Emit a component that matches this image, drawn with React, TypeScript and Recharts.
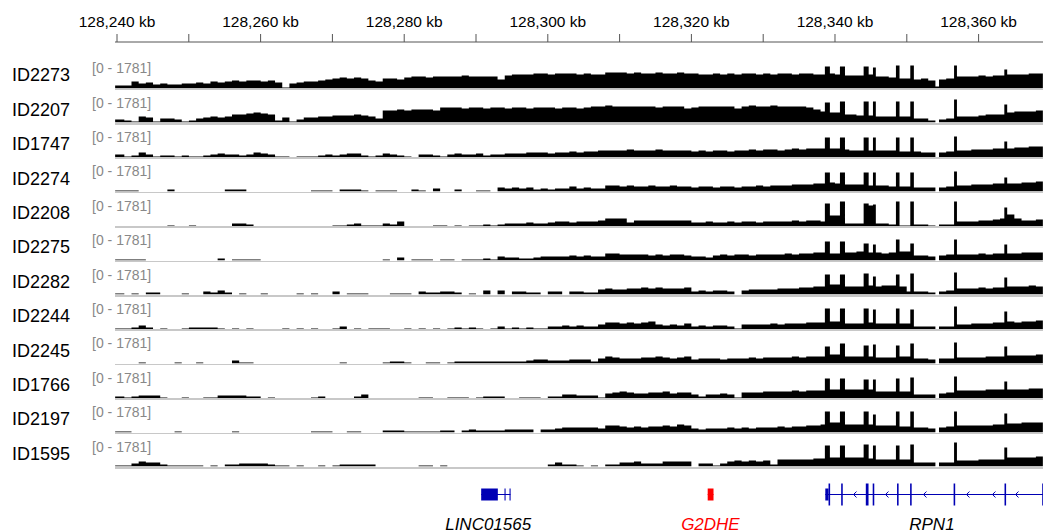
import React from "react";
import {
  AreaChart,
  Area,
  ComposedChart,
  XAxis,
  YAxis,
  ReferenceArea,
  ReferenceLine,
  Scatter,
} from "recharts";

// ---- region / scale ----
const REGION_START = 128240; // kb
const VIEW_START = 128239.72;
const VIEW_END = 128368.97;
const DATA_MAX = 1781;

// bin starts (kb offset from REGION_START); each bin runs to the next start
const binStart = [
  -0.3, 1, 2, 3, 4, 5, 6, 7, 8, 9,
  10, 11, 12, 13, 14, 15, 16, 17, 18, 19,
  20, 21, 22, 23, 24, 25, 26, 27, 28, 29,
  30, 31, 32, 33, 34, 35, 36, 37, 38, 39,
  40, 41, 42, 43, 44, 45, 46, 47, 48, 49,
  50, 51, 52, 53, 54, 55, 56, 57, 58, 59,
  60, 61, 62, 63, 64, 65, 66, 67, 68, 69,
  70, 71, 72, 73, 74, 75, 76, 77, 78, 79,
  80, 81, 82, 83, 84, 85, 86, 87, 88, 89,
  90, 91, 92, 93, 94, 95, 96, 97,
  98, 98.6, 99.3, 100, 100.7, 101.4, 102, 103, 104, 104.7,
  105.3, 105.7, 106.5, 107.5, 108.5, 109, 110, 110.5, 111, 112,
  113, 114, 114.5, 115.5, 116.6, 117, 118, 119, 120, 121,
  122, 123, 123.6, 124, 125, 126, 127, 128, 129,
];
const BIN_END = 129.5;

const trackNames = [
  "ID2273", "ID2207", "ID1747", "ID2274", "ID2208", "ID2275",
  "ID2282", "ID2244", "ID2245", "ID1766", "ID2197", "ID1595",
];

const id2273 = [
  150, 150, 350, 250, 300, 200, 250, 200, 200, 250,
  250, 300, 250, 350, 300, 350, 400, 350, 400, 400,
  350, 400, 300, 50, 250, 300, 350, 350, 400, 450,
  500, 550, 500, 550, 500, 400, 350, 500, 500, 450,
  550, 600, 600, 550, 600, 600, 600, 600, 650, 600,
  600, 600, 600, 450, 650, 700, 700, 700, 750, 750,
  700, 750, 750, 750, 700, 750, 700, 700, 800, 800,
  800, 750, 800, 750, 750, 800, 750, 750, 800, 750,
  750, 700, 700, 750, 700, 750, 700, 750, 750, 700,
  750, 700, 750, 750, 700, 750, 750, 700,
  700, 1100, 750, 700, 1100, 650, 650, 650, 1100, 700,
  1050, 600, 600, 550, 1150, 500, 500, 1150, 450, 500,
  400, 100, 450, 500, 1150, 600, 600, 600, 650, 600,
  650, 650, 950, 700, 700, 700, 750, 750, 1100,
];
const id2207 = [
  150, 100, 50, 300, 250, 50, 200, 200, 150, 50,
  100, 200, 250, 300, 250, 300, 400, 400, 450, 500,
  450, 400, 100, 250, 50, 150, 250, 250, 300, 300,
  350, 350, 350, 400, 350, 300, 200, 600, 600, 650,
  600, 650, 650, 650, 600, 750, 750, 750, 700, 750,
  750, 700, 750, 750, 700, 750, 750, 700, 750, 750,
  750, 700, 750, 750, 700, 750, 800, 800, 850, 800,
  800, 800, 800, 800, 800, 750, 800, 800, 800, 700,
  750, 800, 800, 800, 800, 800, 700, 800, 850, 800,
  800, 850, 800, 800, 800, 800, 750, 650,
  550, 1000, 500, 500, 1050, 400, 400, 350, 1050, 350,
  1050, 300, 300, 300, 1050, 300, 300, 1050, 200, 200,
  100, 0, 150, 200, 1150, 300, 300, 300, 350, 400,
  400, 400, 900, 500, 550, 550, 550, 600, 900,
];
const id1747 = [
  150, 50, 100, 250, 150, 50, 100, 100, 50, 100,
  50, 50, 100, 150, 200, 150, 150, 100, 150, 250,
  200, 150, 50, 50, 0, 50, 50, 50, 100, 150,
  100, 150, 200, 200, 100, 50, 100, 200, 150, 100,
  50, 0, 150, 150, 100, 50, 150, 200, 150, 150,
  200, 100, 150, 150, 200, 200, 200, 250, 250, 250,
  200, 250, 250, 300, 250, 300, 300, 350, 350, 350,
  350, 400, 350, 350, 350, 400, 350, 350, 350, 350,
  300, 350, 300, 350, 350, 300, 350, 350, 400, 350,
  400, 400, 350, 400, 450, 400, 450, 450,
  450, 1000, 450, 450, 1000, 400, 350, 350, 1000, 350,
  1000, 350, 350, 350, 1000, 300, 300, 1000, 300, 250,
  250, 0, 250, 300, 1050, 350, 350, 400, 400, 400,
  450, 450, 800, 450, 500, 500, 550, 550, 1000,
];
const id2274 = [
  50, 50, 50, 0, 0, 0, 0, 100, 0, 0,
  0, 0, 0, 0, 0, 100, 100, 100, 0, 0,
  0, 0, 0, 0, 0, 0, 0, 50, 50, 50,
  0, 100, 100, 100, 50, 0, 50, 50, 50, 0,
  0, 100, 50, 0, 150, 0, 0, 100, 0, 0,
  50, 50, 0, 200, 150, 200, 150, 200, 100, 150,
  100, 150, 150, 250, 150, 200, 150, 150, 300, 300,
  250, 300, 250, 250, 300, 250, 250, 300, 250, 250,
  200, 250, 250, 200, 250, 250, 200, 250, 250, 300,
  250, 300, 300, 300, 350, 350, 350, 400,
  400, 950, 450, 400, 950, 350, 350, 350, 950, 300,
  950, 300, 300, 250, 950, 250, 250, 950, 200, 200,
  200, 0, 200, 250, 1000, 300, 300, 350, 350, 350,
  400, 400, 700, 400, 400, 450, 450, 500, 950,
];
const id2208 = [
  0, 0, 0, 0, 0, 0, 0, 50, 0, 0,
  50, 0, 0, 0, 0, 0, 150, 150, 100, 0,
  0, 0, 0, 0, 0, 0, 0, 0, 0, 0,
  50, 50, 100, 150, 50, 50, 50, 150, 100, 250,
  0, 0, 0, 0, 50, 50, 0, 50, 0, 50,
  50, 100, 50, 100, 150, 150, 150, 200, 150, 150,
  200, 250, 250, 200, 250, 250, 250, 300, 400, 400,
  400, 200, 300, 300, 300, 300, 300, 300, 300, 300,
  200, 200, 250, 200, 200, 250, 200, 250, 250, 200,
  250, 250, 250, 250, 300, 250, 300, 300,
  250, 1150, 550, 550, 1250, 150, 150, 150, 1150, 1050,
  1100, 150, 150, 100, 1250, 50, 50, 1250, 100, 100,
  50, 0, 100, 100, 1250, 250, 250, 250, 300, 300,
  350, 400, 950, 600, 400, 300, 300, 350, 1000,
];
const id2275 = [
  50, 50, 50, 50, 0, 0, 0, 0, 0, 0,
  0, 0, 0, 0, 100, 0, 50, 50, 50, 50,
  0, 0, 0, 0, 0, 0, 0, 0, 0, 0,
  0, 0, 0, 0, 0, 0, 0, 50, 0, 150,
  0, 50, 50, 50, 0, 50, 50, 0, 50, 50,
  50, 100, 50, 200, 150, 150, 100, 100, 150, 200,
  200, 200, 200, 250, 200, 250, 200, 200, 350, 350,
  300, 300, 300, 300, 250, 300, 250, 300, 300, 250,
  200, 200, 150, 250, 300, 250, 300, 300, 250, 300,
  300, 300, 300, 350, 300, 350, 350, 400,
  400, 950, 350, 350, 950, 400, 400, 450, 850, 400,
  800, 400, 350, 400, 1050, 450, 450, 850, 250, 250,
  200, 0, 250, 300, 1050, 300, 300, 300, 350, 300,
  350, 350, 800, 350, 350, 400, 400, 400, 800,
];
const id2282 = [
  50, 0, 50, 0, 100, 100, 0, 0, 0, 50,
  0, 0, 150, 100, 200, 100, 0, 50, 0, 0,
  50, 0, 0, 0, 0, 50, 0, 50, 0, 0,
  150, 0, 50, 50, 50, 0, 0, 0, 50, 50,
  50, 0, 150, 100, 100, 150, 150, 100, 0, 50,
  0, 200, 0, 200, 0, 150, 150, 100, 100, 0,
  150, 150, 0, 150, 150, 100, 100, 250, 300, 250,
  250, 300, 300, 350, 300, 350, 300, 300, 300, 350,
  150, 200, 150, 200, 200, 150, 0, 200, 250, 250,
  250, 250, 300, 300, 300, 350, 350, 400,
  400, 1000, 500, 500, 1000, 400, 400, 400, 1050, 450,
  900, 400, 450, 450, 1000, 400, 150, 1050, 150, 150,
  100, 0, 150, 200, 1100, 300, 300, 300, 350, 300,
  350, 350, 850, 400, 400, 400, 450, 400, 1000,
];
const id2244 = [
  50, 50, 100, 200, 100, 0, 50, 0, 0, 50,
  100, 100, 100, 100, 50, 0, 50, 0, 50, 0,
  0, 0, 0, 50, 0, 50, 0, 50, 0, 0,
  50, 150, 0, 50, 0, 50, 50, 50, 0, 0,
  50, 0, 50, 0, 50, 0, 50, 100, 50, 100,
  50, 0, 50, 150, 50, 100, 50, 100, 50, 50,
  150, 150, 200, 150, 200, 150, 150, 250, 350, 350,
  300, 350, 300, 350, 400, 250, 200, 250, 200, 300,
  150, 200, 150, 200, 200, 150, 50, 250, 250, 250,
  250, 300, 250, 300, 300, 300, 350, 350,
  350, 1050, 400, 400, 1050, 300, 300, 300, 1050, 350,
  1000, 300, 300, 300, 1050, 300, 300, 1000, 150, 150,
  150, 0, 150, 150, 1150, 250, 250, 300, 300, 300,
  350, 350, 900, 400, 350, 400, 400, 450, 1000,
];
const id2245 = [
  0, 0, 0, 50, 0, 0, 0, 0, 50, 0,
  0, 50, 0, 0, 0, 0, 150, 50, 50, 0,
  0, 0, 0, 0, 0, 0, 0, 0, 0, 0,
  0, 50, 0, 0, 0, 0, 0, 50, 100, 100,
  50, 0, 0, 50, 50, 0, 50, 100, 100, 100,
  100, 100, 100, 100, 100, 100, 100, 150, 200, 200,
  150, 150, 150, 200, 200, 200, 100, 250, 350, 300,
  250, 250, 250, 300, 300, 350, 300, 250, 300, 350,
  200, 250, 250, 250, 200, 250, 250, 250, 300, 250,
  300, 300, 300, 300, 350, 300, 350, 350,
  350, 850, 450, 450, 1000, 350, 350, 350, 900, 350,
  950, 300, 300, 300, 900, 350, 350, 1000, 250, 250,
  200, 0, 250, 250, 1050, 300, 300, 300, 300, 350,
  350, 350, 850, 400, 400, 400, 400, 450, 1000,
];
const id1766 = [
  100, 50, 100, 150, 150, 150, 50, 0, 0, 50,
  0, 0, 50, 50, 150, 150, 150, 150, 100, 100,
  0, 50, 0, 0, 0, 0, 0, 50, 100, 0,
  0, 0, 0, 100, 200, 0, 0, 0, 0, 0,
  0, 0, 50, 50, 0, 0, 50, 50, 50, 0,
  50, 100, 100, 100, 0, 0, 50, 50, 50, 0,
  100, 100, 200, 200, 150, 150, 150, 50, 250, 300,
  350, 300, 250, 250, 300, 300, 350, 250, 300, 300,
  200, 100, 200, 200, 250, 200, 50, 300, 300, 300,
  350, 350, 350, 350, 400, 350, 400, 400,
  400, 1000, 450, 450, 1000, 450, 450, 450, 950, 450,
  950, 350, 350, 350, 1000, 350, 350, 1050, 200, 200,
  200, 0, 250, 300, 1100, 400, 400, 400, 400, 450,
  450, 450, 850, 450, 450, 450, 500, 500, 1000,
];
const id2197 = [
  50, 50, 0, 0, 0, 0, 0, 0, 50, 0,
  0, 0, 0, 0, 0, 0, 50, 0, 0, 0,
  0, 0, 0, 0, 0, 0, 0, 50, 50, 50,
  0, 0, 50, 50, 0, 0, 0, 100, 100, 100,
  50, 50, 50, 50, 50, 100, 100, 0, 100, 150,
  100, 100, 100, 100, 150, 150, 150, 150, 0, 150,
  150, 200, 250, 250, 250, 250, 250, 200, 350, 350,
  300, 250, 300, 250, 300, 300, 350, 300, 400, 350,
  200, 150, 200, 200, 200, 250, 200, 250, 200, 250,
  250, 250, 300, 250, 300, 300, 350, 350,
  400, 1050, 500, 500, 1050, 400, 400, 400, 1050, 400,
  900, 350, 350, 350, 1050, 300, 300, 1050, 250, 250,
  200, 0, 250, 300, 1050, 350, 350, 350, 350, 350,
  400, 400, 950, 450, 450, 500, 500, 500, 1050,
];
const id1595 = [
  50, 50, 150, 250, 200, 200, 100, 50, 50, 50,
  50, 50, 0, 50, 0, 100, 100, 150, 150, 150,
  150, 100, 50, 50, 0, 50, 0, 0, 50, 0,
  50, 100, 100, 100, 100, 100, 0, 0, 0, 0,
  0, 0, 50, 50, 0, 50, 0, 0, 0, 0,
  0, 0, 0, 0, 0, 0, 0, 0, 0, 0,
  100, 200, 100, 100, 50, 0, 50, 0, 100, 100,
  200, 200, 250, 150, 150, 150, 250, 250, 250, 250,
  0, 150, 150, 50, 150, 250, 300, 250, 300, 250,
  300, 100, 350, 350, 350, 350, 350, 400,
  400, 1050, 450, 450, 1050, 450, 450, 450, 1100, 400,
  1050, 350, 350, 350, 1050, 350, 350, 1100, 200, 200,
  200, 0, 200, 200, 1200, 300, 300, 300, 350, 350,
  350, 350, 950, 450, 450, 450, 450, 500, 1050,
];
const trackValues = [
  id2273, id2207, id1747, id2274, id2208, id2275,
  id2282, id2244, id2245, id1766, id2197, id1595,
];

// ---- ruler ----
const rulerTicksKb = [
  128240, 128250, 128260, 128270, 128280, 128290, 128300,
  128310, 128320, 128330, 128340, 128350, 128360,
];
const rulerLabelKb = [128240, 128260, 128280, 128300, 128320, 128340, 128360];

// ---- genes (RefSeq-like track) ----
const geneNames = ["LINC01565", "G2DHE", "RPN1"];
const geneStartKb = [128290.72, 128322.27, 128338.65];
const geneEndKb = [128294.8, 128323.08, 128372.0];
const geneLabelKb = [128291.7, 128322.65, 128353.5];
const exonGene = [0, 0, 0, 1, 2, 2, 2, 2, 2, 2, 2, 2, 2, 2];
const exonStartKb = [
  128290.72, 128293.97, 128294.67, 128322.27,
  128338.65, 128339.1, 128340.86, 128344.29, 128345.25,
  128348.64, 128350.46, 128356.52, 128363.61, 128368.86,
];
const exonEndKb = [
  128293.04, 128294.12, 128294.82, 128323.08,
  128339.1, 128339.32, 128341.08, 128344.67, 128345.47,
  128348.86, 128350.68, 128356.74, 128363.83, 128369.08,
];
const exonCoding = [0, 0, 0, 0, 0, 1, 1, 1, 1, 1, 1, 1, 1, 1];
const strandArrowKb = [128342.79, 128347.24, 128352.53, 128358.52, 128362.14, 128365.35];

// ---- layout ----
const FONT = '"Liberation Sans", Arial, Helvetica, sans-serif';
const PANEL_LEFT = 115;
const PANEL_WIDTH = 928;
const FIRST_BOTTOM = 88.6;
const TRACK_STEP = 34.4;
const TRACK_H = DATA_MAX / 50;
const GENE_TOP = 470;
const GENE_H = 62;
const BLUE = "#0000b4";
const geneColor: Record<string, string> = { G2DHE: "#ff0000" };
const labelColor: Record<string, string> = { G2DHE: "#ff0000" };

const RulerTick = (props: any) => {
  const { x, y, payload } = props;
  if (!rulerLabelKb.includes(payload.value)) return <g />;
  return (
    <text x={x} y={y - 5.5} textAnchor="middle" fontSize={15.5} fill="#000" fontFamily={FONT}>
      {payload.value.toLocaleString("en-US")} kb
    </text>
  );
};

const Chevron = (props: any) => {
  const { cx, cy } = props;
  return (
    <path
      d={`M${cx + 1.5},${cy - 3} L${cx - 1.5},${cy} L${cx + 1.5},${cy + 3}`}
      stroke={BLUE}
      strokeWidth={1}
      fill="none"
    />
  );
};

const GeneLabel = (props: any) => {
  const { cx, cy, payload } = props;
  return (
    <text
      x={cx}
      y={cy}
      textAnchor="middle"
      fontSize={17}
      fontStyle="italic"
      fontFamily={FONT}
      fill={labelColor[payload.name] ?? "#000"}
    >
      {payload.name}
    </text>
  );
};

function Track({ name, values, index }: { name: string; values: number[]; index: number }) {
  const bottom = FIRST_BOTTOM + index * TRACK_STEP;
  const data = binStart.map((s, i) => ({ x: REGION_START + s, v: values[i] ?? 0 }));
  data.push({ x: REGION_START + BIN_END, v: values[values.length - 1] });
  return (
    <>
      <div
        style={{
          position: "absolute", left: 12, top: bottom - 22.2, fontSize: 18,
          lineHeight: "18px", color: "#000", whiteSpace: "nowrap",
        }}
      >
        {name}
      </div>
      <div
        style={{
          position: "absolute", left: 92, top: bottom - 27.4, fontSize: 14,
          lineHeight: "14px", color: "#888", whiteSpace: "nowrap",
        }}
      >
        [0 - {DATA_MAX}]
      </div>
      <div
        style={{
          position: "absolute", left: PANEL_LEFT, top: bottom, width: PANEL_WIDTH,
          height: 1.5, background: "#c8c8c8",
        }}
      />
      <div style={{ position: "absolute", left: PANEL_LEFT, top: bottom - TRACK_H }}>
        <AreaChart
          width={PANEL_WIDTH}
          height={TRACK_H}
          data={data}
          margin={{ top: 0, right: 0, bottom: 0, left: 0 }}
        >
          <XAxis dataKey="x" type="number" domain={[VIEW_START, VIEW_END]} allowDataOverflow hide />
          <YAxis type="number" domain={[0, DATA_MAX]} allowDataOverflow hide />
          <Area
            dataKey="v"
            type="stepAfter"
            stroke="none"
            fill="#000"
            fillOpacity={1}
            isAnimationActive={false}
          />
        </AreaChart>
      </div>
    </>
  );
}

export default function App() {
  const rulerData = rulerTicksKb.map((t) => ({ x: t }));
  const arrowData = strandArrowKb.map((x) => ({ x, y: 0 }));
  const labelData = geneNames.map((name, i) => ({ x: geneLabelKb[i], y: -35, name }));

  return (
    <div
      style={{
        position: "absolute", left: 0, top: 0, width: 1043, height: 532,
        background: "#fff", overflow: "hidden", fontFamily: FONT,
      }}
    >
      <div style={{ position: "absolute", left: 0, top: 0 }}>
        <ComposedChart
          width={PANEL_LEFT + PANEL_WIDTH}
          height={50}
          data={rulerData}
          margin={{ top: 0, right: 0, bottom: 0, left: PANEL_LEFT }}
        >
          <XAxis
            dataKey="x"
            type="number"
            orientation="top"
            height={42}
            domain={[VIEW_START, VIEW_END]}
            allowDataOverflow
            ticks={rulerTicksKb}
            interval={0}
            tickSize={8}
            tickMargin={2}
            stroke="#555"
            tick={RulerTick}
          />
          <YAxis hide />
        </ComposedChart>
      </div>

      {trackNames.map((name, i) => (
        <Track key={name} name={name} values={trackValues[i]} index={i} />
      ))}

      <div style={{ position: "absolute", left: PANEL_LEFT, top: GENE_TOP }}>
        <ComposedChart
          width={PANEL_WIDTH}
          height={GENE_H}
          margin={{ top: 0, right: 0, bottom: 0, left: 0 }}
        >
          <XAxis dataKey="x" type="number" domain={[VIEW_START, VIEW_END]} allowDataOverflow hide />
          <YAxis dataKey="y" type="number" domain={[-37.5, 24.5]} allowDataOverflow hide />
          {geneNames.map((name, i) => (
            <ReferenceLine
              key={"l" + name}
              segment={[
                { x: geneStartKb[i], y: 0 },
                { x: Math.min(geneEndKb[i], VIEW_END), y: 0 },
              ]}
              stroke={geneColor[name] ?? BLUE}
              strokeWidth={1}
              ifOverflow="hidden"
            />
          ))}
          {exonStartKb.map((s, i) => {
            const half = exonCoding[i] ? 11 : 6;
            const name = geneNames[exonGene[i]];
            return (
              <ReferenceArea
                key={"e" + i}
                x1={s}
                x2={exonEndKb[i]}
                y1={-half}
                y2={half}
                fill={geneColor[name] ?? BLUE}
                fillOpacity={1}
                stroke="none"
                ifOverflow="hidden"
              />
            );
          })}
          <Scatter data={arrowData} shape={Chevron} isAnimationActive={false} />
          <Scatter data={labelData} shape={GeneLabel} isAnimationActive={false} />
        </ComposedChart>
      </div>
    </div>
  );
}
